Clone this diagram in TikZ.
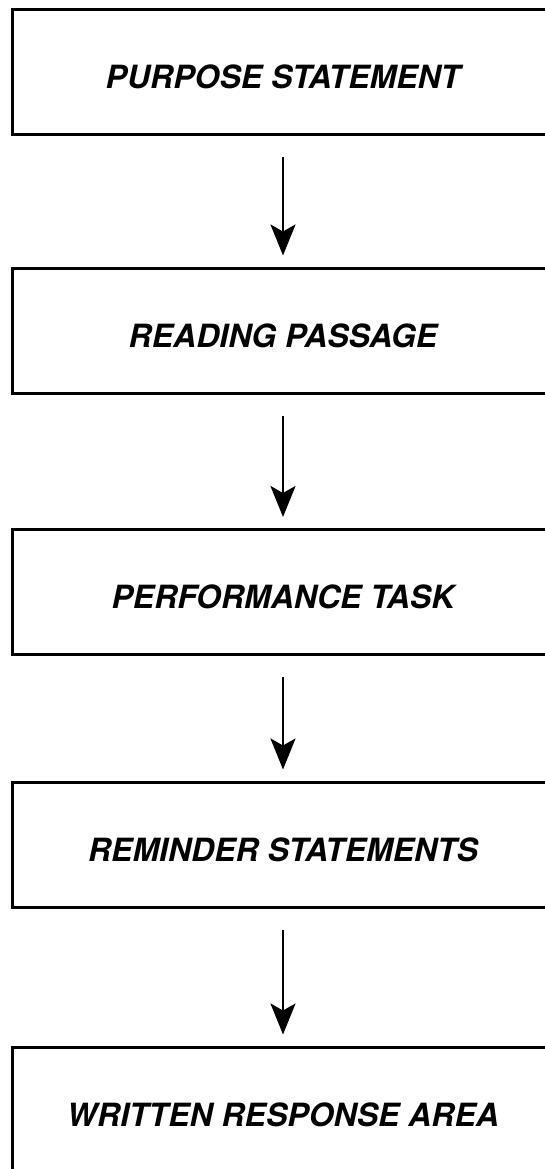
\documentclass[tikz,border=0pt]{standalone}
\usepackage{fontspec}
\setmainfont{TeX Gyre Heros}
\usepackage{tikz}
\usetikzlibrary{arrows.meta,positioning}

\begin{document}
\begin{tikzpicture}[x=1pt,y=-1pt,
  every node/.style={font=\fontsize{32}{36}\selectfont\bfseries\itshape},
  part/.style={draw,line width=3pt,minimum width=541.5pt,minimum height=125pt,
    inner sep=0pt,text height=33pt,text depth=0pt},
  flow/.style={-{Stealth[length=31pt,width=25pt,inset=7pt]},line width=2.4pt,
    shorten <=21pt,shorten >=11pt}]
\clip (0,0) rectangle (545,1169);
\node[part] (purpose) at (283,72.5) {PURPOSE STATEMENT};
\node[part] (reading) at (283,330.5) {READING PASSAGE};
\node[part] (task) at (283,592) {PERFORMANCE TASK};
\node[part] (reminder) at (283,844.5) {REMINDER STATEMENTS};
\node[part] (response) at (283,1109.5) {WRITTEN RESPONSE AREA};
\draw[flow] (purpose) -- (reading);
\draw[flow] (reading) -- (task);
\draw[flow] (task) -- (reminder);
\draw[flow] (reminder) -- (response);
\end{tikzpicture}
\end{document}
